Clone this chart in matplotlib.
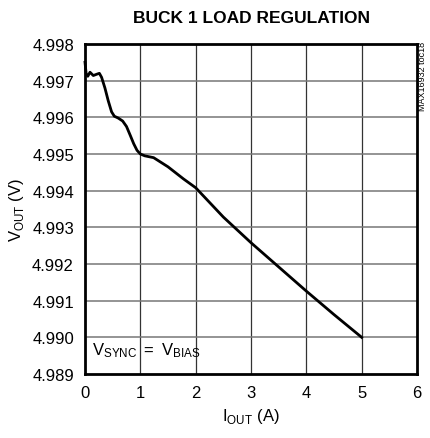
import matplotlib.pyplot as plt
import numpy as np

plt.rcParams['font.family'] = ['Liberation Sans', 'DejaVu Sans']
plt.rcParams['mathtext.fontset'] = 'custom'
plt.rcParams['mathtext.rm'] = 'Liberation Sans'

# load current (A) and output voltage (V)
iout = [0.0, 0.02, 0.05, 0.09, 0.15, 0.22, 0.26, 0.30, 0.36, 0.42, 0.48, 0.53, 0.60,
        0.68, 0.75, 0.82, 0.88, 0.94, 1.0, 1.08, 1.24, 1.50, 1.78, 2.0, 2.5, 3.0,
        3.5, 4.0, 4.5, 5.0]
vout = [4.99750, 4.99720, 4.99712, 4.99723, 4.99714, 4.99718, 4.99720, 4.99709,
        4.99680, 4.99645, 4.99615, 4.99603, 4.99598, 4.99590, 4.99575, 4.99550,
        4.99528, 4.99510, 4.99500, 4.99495, 4.99490, 4.99465, 4.99432, 4.99408,
        4.99328, 4.99258, 4.99192, 4.99126, 4.99062, 4.99000]

xticks = [0, 1, 2, 3, 4, 5, 6]
yticks = [4.989, 4.990, 4.991, 4.992, 4.993, 4.994, 4.995, 4.996, 4.997, 4.998]

fig = plt.figure(figsize=(4.3, 4.39), dpi=100)
ax = fig.add_axes([0.1977, 0.1458, 0.7721, 0.7517])

for x in xticks[1:-1]:
    ax.axvline(x, color='#333333', lw=0.9, zorder=1)
for y in yticks[1:-1]:
    ax.axhline(y, color='#777777', lw=1.1, zorder=1)

ax.plot(iout, vout, color='black', lw=2.0, zorder=3, clip_on=False)

ax.set_xlim(0, 6)
ax.set_ylim(4.989, 4.998)
ax.set_xticks(xticks)
ax.set_yticks(yticks)
ax.set_yticklabels(['%.3f' % v for v in yticks])
ax.tick_params(length=0, labelsize=12, pad=8)
for s in ax.spines.values():
    s.set_linewidth(2)

ax.set_title('BUCK 1 LOAD REGULATION', fontsize=12.5, fontweight='bold', pad=16)
ax.set_xlabel(r'I$_{\mathregular{OUT}}$ (A)', fontsize=12)
ax.set_ylabel(r'V$_{\mathregular{OUT}}$ (V)', fontsize=12)
ax.text(0.13, 4.9894, r'$\mathregular{V_{SYNC}\;=\;V_{BIAS}}$', fontsize=12,
        va='bottom', ha='left')
fig.text(0.973, 0.905, 'MAX16932 toc18', rotation=90, fontsize=6.5, ha='left', va='top')

fig.savefig('out.png', dpi=100)
